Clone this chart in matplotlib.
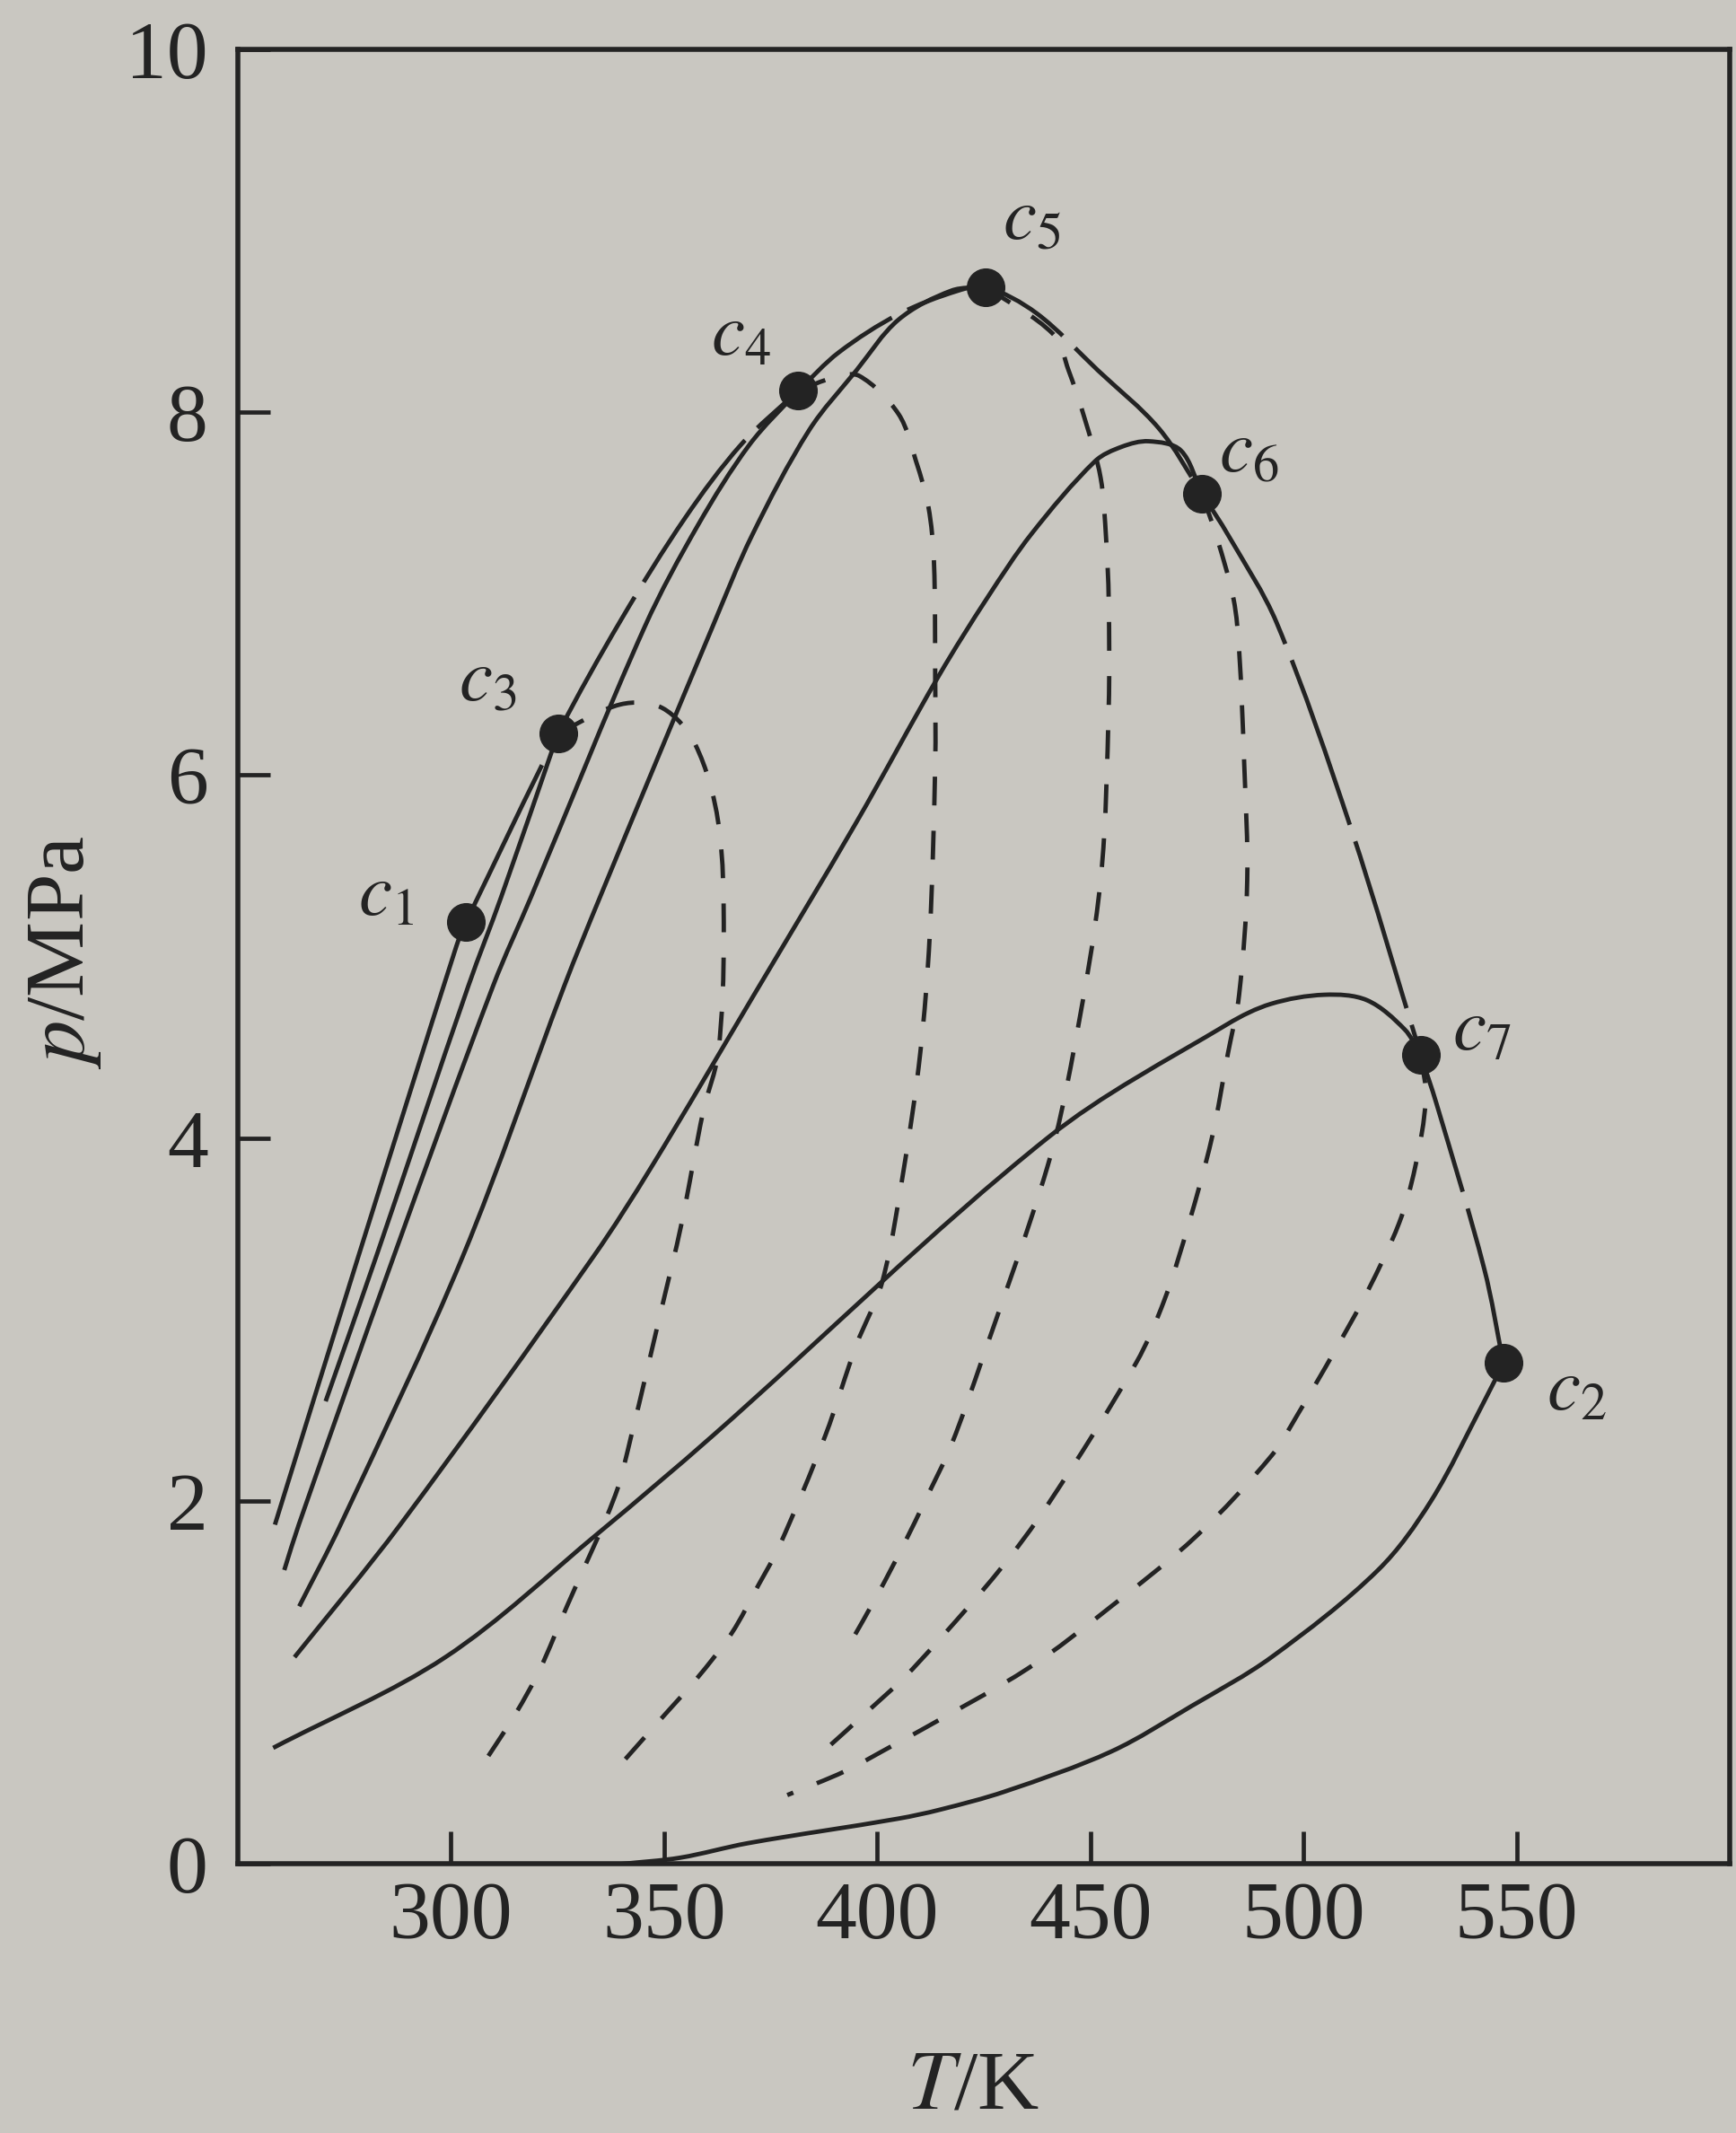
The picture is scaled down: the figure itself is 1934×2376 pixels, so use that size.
import matplotlib
matplotlib.use("Agg")
import numpy as np
import matplotlib.pyplot as plt
from matplotlib.path import Path
from matplotlib.patches import PathPatch

plt.rcParams['font.family'] = ['Liberation Serif', 'DejaVu Serif']
plt.rcParams['mathtext.fontset'] = 'stix'

# ---------------- data (T in K, p in MPa) ----------------
# critical points c1..c7
crit_labels = ['$c_1$', '$c_2$', '$c_3$', '$c_4$', '$c_5$', '$c_6$', '$c_7$']
crit_pt_T = [303.5, 546.9, 325.1, 381.5, 425.5, 476.2, 527.5]
crit_pt_p = [5.19, 2.76, 6.23, 8.12, 8.69, 7.55, 4.46]

# vapour-pressure curves of the pure components
ethane_T = [258.7, 278.3, 301.3, 303.5]
ethane_p = [1.87, 3.35, 5.06, 5.19]
heptane_T = [340.0, 353.8, 369.7, 404.9, 414.8, 430.0, 454.9, 473.7, 492.5, 517.5, 529.9, 542.4, 546.9]
heptane_p = [0.0, 0.035, 0.115, 0.25, 0.30, 0.40, 0.62, 0.87, 1.14, 1.62, 2.00, 2.55, 2.76]

# bubble-point curves (solid)
bub3_T = [270.6, 282.5, 304.1, 311.8, 325.1]
bub3_p = [2.55, 3.35, 4.84, 5.33, 6.23]
bub4_T = [260.9, 264.3, 286.6, 309.9, 318.8, 345.5, 358.0, 370.0, 381.5]
bub4_p = [1.62, 1.87, 3.35, 4.84, 5.33, 6.82, 7.38, 7.82, 8.12]
bub5_T = [264.4, 274.1, 302.8, 326.6, 335.0, 361.4, 370.6, 384.0, 395.1, 405.0, 417.4, 425.5]
bub5_p = [1.42, 1.87, 3.35, 4.84, 5.33, 6.82, 7.32, 7.90, 8.23, 8.51, 8.67, 8.69]
bub6_T = [263.3, 288.1, 333.5, 347.0, 371.1, 395.1, 414.5, 425.9, 436.2, 451.1, 457.4, 463.7, 471.2, 476.2]
bub6_p = [1.14, 1.87, 3.35, 3.84, 4.79, 5.74, 6.55, 6.98, 7.33, 7.73, 7.81, 7.84, 7.79, 7.55]
bub7_T = [258.3, 298.7, 334.9, 361.4, 439.9, 482.3, 492.4, 504.9, 514.9, 523.7, 527.5]
bub7_p = [0.64, 1.14, 1.83, 2.36, 4.00, 4.63, 4.74, 4.79, 4.76, 4.60, 4.46]

# dew-point curves (dashed)
dew3_T = [325.1, 339.8, 349.6, 357.3, 362.7, 364.0, 362.7, 359.2, 354.1, 349.3, 342.3, 338.5, 327.2, 320.8, 315.2, 306.4]
dew3_p = [6.23, 6.39, 6.37, 6.17, 5.74, 5.11, 4.47, 4.15, 3.53, 3.05, 2.36, 2.03, 1.42, 1.07, 0.83, 0.51]
dew4_T = [381.5, 389.7, 395.8, 405.0, 409.1, 412.0, 413.3, 413.6, 413.6, 412.3, 410.1, 406.3, 401.2, 395.1, 387.8, 377.0,
          372.2, 365.8, 357.6, 348.9, 339.1]
dew4_p = [8.12, 8.19, 8.20, 7.99, 7.73, 7.48, 7.18, 6.54, 6.06, 5.11, 4.47, 3.84, 3.21, 2.86, 2.36, 1.75,
          1.54, 1.27, 1.02, 0.79, 0.53]
dew5_T = [425.5, 441.3, 444.9, 448.6, 452.4, 453.7, 454.3, 454.3, 452.4, 446.0, 439.9, 424.9, 417.4, 411.6, 406.0, 400.2, 393.0]
dew5_p = [8.69, 8.43, 8.23, 7.97, 7.64, 7.30, 6.97, 6.37, 5.42, 4.47, 3.84, 2.80, 2.31, 2.02, 1.75, 1.49, 1.19]
dew6_T = [476.2, 479.8, 483.6, 484.9, 486.1, 486.8, 484.9, 482.3, 478.5, 473.1, 467.4, 460.7, 440.0, 428.7, 414.7, 406.0, 397.2, 387.8, 385.3]
dew6_p = [7.55, 7.30, 6.97, 6.69, 6.06, 5.42, 4.79, 4.47, 4.00, 3.53, 3.11, 2.76, 1.98, 1.62, 1.24, 1.02, 0.83, 0.63, 0.58]
dew7_T = [527.5, 528.7, 526.2, 522.4, 514.9, 507.4, 498.7, 492.5, 475.0, 454.9, 435.5, 411.2, 403.4, 392.3, 378.9]
dew7_p = [4.46, 4.22, 3.84, 3.53, 3.15, 2.83, 2.48, 2.25, 1.81, 1.42, 1.08, 0.75, 0.65, 0.51, 0.38]

# critical locus c1 -> c3 -> c4 -> c5 -> c6 -> c7 -> c2
locus_T = [303.5, 325.1, 340.0, 355.0, 368.0, 381.5, 391.0, 405.0, 419.0, 425.5, 437.4, 451.8, 466.1, 476.2,
           482.4, 493.7, 511.1, 527.5, 531.2, 542.4, 546.9]
locus_p = [5.19, 6.23, 6.86, 7.42, 7.82, 8.12, 8.33, 8.54, 8.67, 8.69, 8.545, 8.23, 7.91, 7.55,
           7.32, 6.84, 5.71, 4.46, 4.19, 3.28, 2.76]

x_ticks = [300, 350, 400, 450, 500, 550]
y_ticks = [0, 2, 4, 6, 8, 10]

# label placement (data coords)
label_T = [284.7, 564.1, 308.6, 368.1, 436.2, 487.1, 541.8]
label_p = [5.33, 2.60, 6.51, 8.41, 9.05, 7.77, 4.58]

# ---------------- drawing ----------------
bg = '#c9c7c1'
ink = '#232323'
lw = 3.5
XLIM = (250, 600)
YLIM = (0, 10)
AX_RECT = [0.137, 0.1261, 0.8594, 0.8508]
FIG_W, FIG_H = 19.34, 23.76


def smooth_path(T, p):
    """Smooth curve through the read points: chord-length cubic Hermite as Bezier segments."""
    P = np.column_stack([T, p]).astype(float)
    sx = AX_RECT[2] * FIG_W / (XLIM[1] - XLIM[0])
    sy = AX_RECT[3] * FIG_H / (YLIM[1] - YLIM[0])
    S = P * np.array([sx, sy])
    d = np.sqrt(((S[1:] - S[:-1]) ** 2).sum(axis=1))
    t = np.concatenate([[0.0], np.cumsum(d)])
    n = len(P)
    m = np.zeros_like(P)
    for i in range(n):
        if i == 0:
            m[i] = (P[1] - P[0]) / (t[1] - t[0])
        elif i == n - 1:
            m[i] = (P[-1] - P[-2]) / (t[-1] - t[-2])
        else:
            m[i] = (P[i + 1] - P[i - 1]) / (t[i + 1] - t[i - 1])
    verts = [P[0]]
    codes = [Path.MOVETO]
    for i in range(n - 1):
        h = t[i + 1] - t[i]
        verts += [P[i] + m[i] * h / 3.0, P[i + 1] - m[i + 1] * h / 3.0, P[i + 1]]
        codes += [Path.CURVE4] * 3
    return Path(verts, codes)


fig = plt.figure(figsize=(FIG_W, FIG_H), dpi=100)
fig.patch.set_facecolor(bg)
ax = fig.add_axes(AX_RECT)
ax.set_facecolor(bg)
ax.set_xlim(*XLIM)
ax.set_ylim(*YLIM)

solid = [(ethane_T, ethane_p), (heptane_T, heptane_p), (bub3_T, bub3_p), (bub4_T, bub4_p),
         (bub5_T, bub5_p), (bub6_T, bub6_p), (bub7_T, bub7_p)]
for T, p in solid:
    ax.add_patch(PathPatch(smooth_path(T, p), fill=False, edgecolor=ink, lw=lw,
                           capstyle='butt', joinstyle='round', zorder=3))

dashed = [(dew3_T, dew3_p), (dew4_T, dew4_p), (dew5_T, dew5_p), (dew6_T, dew6_p), (dew7_T, dew7_p)]
for T, p in dashed:
    ax.add_patch(PathPatch(smooth_path(T, p), fill=False, edgecolor=ink, lw=lw,
                           linestyle=(0, (6.6, 5.8)), capstyle='butt', zorder=3))

ax.add_patch(PathPatch(smooth_path(locus_T, locus_p), fill=False, edgecolor=ink, lw=lw,
                       linestyle=(0, (40, 4)), capstyle='butt', zorder=3))

ax.plot(crit_pt_T, crit_pt_p, 'o', color=ink, ms=30, zorder=5)

for lab, tx, ty in zip(crit_labels, label_T, label_p):
    ax.text(tx, ty, lab, fontsize=60, ha='center', va='center', color=ink, zorder=6)

ax.set_xticks(x_ticks)
ax.set_yticks(y_ticks)
ax.set_xticklabels([str(v) for v in x_ticks])
ax.set_yticklabels([str(v) for v in y_ticks])
ax.tick_params(axis='both', direction='in', length=26, width=3.4, labelsize=66,
               colors=ink, top=False, right=False)
ax.tick_params(axis='x', pad=14)
ax.tick_params(axis='y', pad=24)
for s in ax.spines.values():
    s.set_linewidth(4)
    s.set_color(ink)

fig.text(0.5603, 0.021, '$T$/K', ha='center', va='center', fontsize=68, color=ink)
fig.text(0.0376, 0.5534, '$p$/MPa', ha='center', va='center', fontsize=68, color=ink, rotation=90)

fig.savefig('out.png', dpi=100, facecolor=bg)
